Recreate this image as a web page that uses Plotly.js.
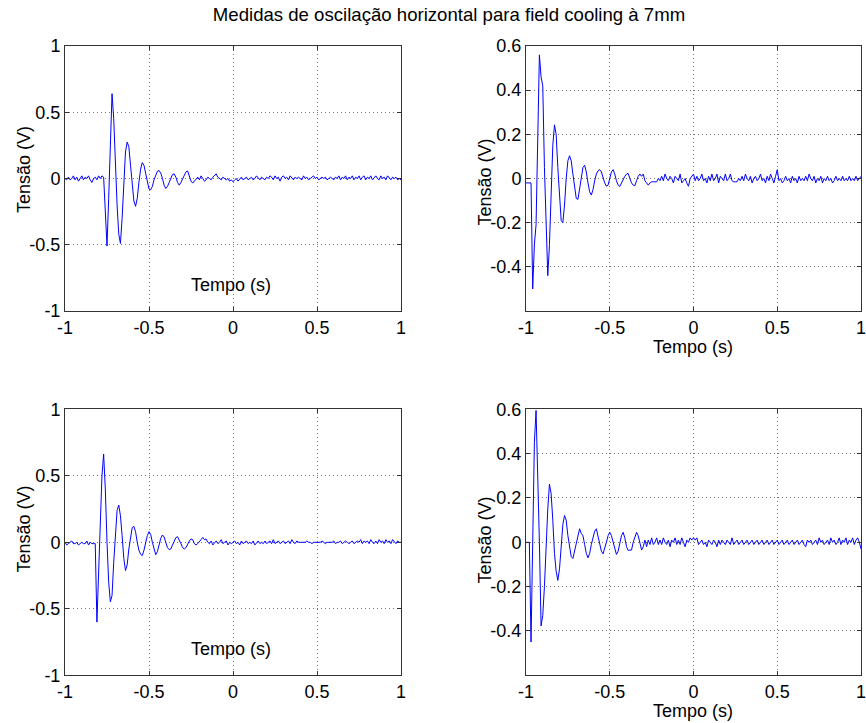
<!DOCTYPE html>
<html>
<head>
<meta charset="utf-8">
<script src="https://cdn.plot.ly/plotly-3.0.1.min.js"></script>
<style>html,body{margin:0;padding:0;background:#fff;}#chart{width:866px;height:723px;}</style>
</head>
<body>
<div id="chart"></div>
<script>
// Time grid: -1 s to 1 s, 0.01 s steps (201 samples)
const tStart = -1, tStep = 0.01, nSamples = 201;

// Top-left panel
const vTopLeft = [
  0.00, -0.01, 0.01, -0.01, 0.00, 0.02, -0.01, 0.01, -0.02, 0.00,
  0.02, -0.01, 0.01, 0.00, 0.02, -0.01, -0.03, 0.00, 0.01, -0.01,
  0.02, 0.00, 0.02, 0.01, -0.25, -0.51, -0.15, 0.30, 0.64, 0.45,
  0.10, -0.20, -0.42, -0.49, -0.30, 0.00, 0.20, 0.275, 0.24, 0.10,
  -0.05, -0.17, -0.21, -0.15, -0.03, 0.07, 0.12, 0.10, 0.04, -0.03,
  -0.08, -0.085, -0.06, -0.01, 0.03, 0.055, 0.06, 0.04, 0.00, -0.05,
  -0.075, -0.06, -0.03, 0.00, 0.03, 0.035, 0.01, -0.03, -0.05, -0.03,
  0.00, 0.03, 0.05, 0.057, 0.02, -0.02, -0.035, -0.02, 0.00, 0.01,
  -0.01, 0.02, 0.00, -0.02, -0.01, 0.01, 0.00, -0.01, 0.01, 0.02,
  0.035, 0.01, 0.00, -0.01, 0.01, 0.00, -0.01, 0.00, -0.02, -0.01,
  -0.025, -0.01, 0.00, -0.02, 0.00, 0.01, -0.01, 0.00, 0.01, -0.01,
  0.00, 0.01, -0.01, 0.00, 0.02, 0.00, -0.01, 0.01, 0.00, -0.01,
  0.01, 0.00, 0.02, 0.01, -0.01, 0.02, 0.00, 0.01, -0.02, 0.01,
  0.02, 0.00, 0.01, -0.01, 0.02, 0.00, -0.01, 0.01, 0.00, 0.01,
  0.00, -0.01, 0.02, 0.00, 0.01, -0.01, 0.00, 0.01, 0.02, 0.00,
  0.01, -0.01, 0.00, 0.01, 0.00, 0.01, -0.01, 0.00, 0.01, 0.00,
  -0.01, 0.01, 0.00, 0.02, -0.01, 0.01, 0.00, 0.02, -0.01, 0.01,
  0.00, 0.02, -0.01, 0.01, 0.00, 0.02, -0.01, 0.01, 0.02, -0.01,
  0.01, 0.00, 0.02, -0.01, 0.01, 0.02, 0.00, -0.01, 0.02, 0.00,
  0.01, -0.01, 0.02, 0.00, -0.01, 0.01, 0.00, 0.01, -0.01, 0.00,
  -0.01
];

// Top-right panel
const vTopRight = [
  -0.02, -0.02, -0.02, -0.02, -0.50, -0.30, -0.21, 0.20, 0.56, 0.46,
  0.42, 0.05, -0.25, -0.44, -0.30, -0.05, 0.15, 0.243, 0.20, 0.05,
  -0.10, -0.19, -0.20, -0.12, 0.00, 0.08, 0.103, 0.08, 0.02, -0.05,
  -0.09, -0.095, -0.05, 0.01, 0.05, 0.06, 0.03, -0.02, -0.06, -0.075,
  -0.05, -0.01, 0.02, 0.035, 0.04, 0.03, 0.00, -0.02, -0.035, -0.03,
  0.00, 0.03, 0.04, 0.02, -0.01, -0.03, -0.036, -0.02, 0.00, 0.01,
  0.02, 0.023, 0.00, -0.02, -0.03, -0.033, -0.01, 0.01, 0.02, 0.01,
  0.02, -0.01, -0.02, -0.03, -0.02, -0.015, -0.015, -0.015, -0.015, 0.00,
  -0.01, 0.01, -0.01, 0.02, 0.00, -0.01, 0.01, 0.00, -0.02, 0.01,
  0.00, -0.01, 0.02, -0.02, -0.01, 0.00, -0.02, -0.035, 0.00, 0.01,
  0.02, -0.01, 0.01, -0.01, 0.00, 0.02, -0.01, 0.00, -0.02, 0.01,
  -0.01, 0.02, -0.01, 0.00, 0.02, -0.02, 0.01, 0.00, -0.01, 0.02,
  -0.01, 0.00, 0.02, -0.01, -0.015, -0.015, -0.015, 0.00, -0.01, 0.01,
  -0.01, 0.02, 0.00, -0.01, 0.01, -0.02, 0.00, 0.01, -0.01, 0.00,
  0.02, -0.01, 0.00, -0.02, 0.01, -0.01, 0.02, 0.00, -0.02, 0.01,
  0.04, -0.01, 0.00, -0.02, -0.01, 0.01, -0.01, 0.00, -0.02, 0.01,
  -0.01, 0.00, -0.02, 0.01, -0.01, 0.00, -0.01, 0.01, -0.01, 0.02,
  0.00, -0.01, 0.01, -0.02, 0.00, -0.01, 0.01, -0.02, 0.00, -0.01,
  0.01, -0.01, 0.00, -0.02, -0.01, 0.01, -0.01, 0.00, -0.01, 0.01,
  -0.01, 0.00, -0.01, 0.01, -0.01, 0.00, -0.01, 0.01, -0.01, 0.00,
  0.01
];

// Bottom-left panel
const vBottomLeft = [
  0.00, -0.02, -0.01, 0.00, 0.01, -0.01, -0.01, 0.00, -0.02, -0.01,
  0.00, -0.01, -0.01, 0.01, -0.02, 0.00, -0.01, -0.01, -0.01, -0.60,
  -0.25, 0.15, 0.50, 0.664, 0.40, 0.00, -0.30, -0.447, -0.40, -0.15,
  0.08, 0.24, 0.28, 0.20, 0.05, -0.12, -0.213, -0.17, -0.05, 0.05,
  0.11, 0.12, 0.08, 0.00, -0.06, -0.09, -0.10, -0.06, 0.00, 0.05,
  0.08, 0.06, 0.00, -0.06, -0.093, -0.07, -0.02, 0.03, 0.055, 0.04,
  0.00, -0.04, -0.055, -0.05, -0.02, 0.01, 0.035, 0.042, 0.02, -0.01,
  -0.04, -0.05, -0.04, -0.01, 0.01, 0.025, 0.02, -0.01, -0.02, -0.01,
  0.01, 0.02, 0.037, 0.02, 0.025, 0.00, -0.01, 0.01, -0.02, 0.00,
  0.01, -0.01, 0.00, 0.02, -0.01, 0.00, 0.01, -0.02, 0.00, -0.01,
  0.00, 0.01, -0.01, 0.00, -0.02, 0.01, -0.01, 0.00, 0.01, -0.01,
  0.00, -0.01, 0.01, -0.02, 0.00, 0.01, -0.01, 0.00, -0.01, 0.01,
  -0.01, 0.00, 0.01, -0.01, 0.02, -0.01, 0.00, 0.01, -0.01, 0.00,
  0.01, -0.01, 0.00, 0.01, -0.01, 0.02, 0.00, -0.01, 0.01, 0.00,
  0.00, 0.00, 0.00, 0.00, 0.01, 0.00, 0.00, -0.01, 0.00, 0.00,
  0.00, 0.00, 0.00, 0.01, 0.00, -0.01, 0.00, 0.00, 0.00, 0.00,
  0.01, -0.01, 0.00, 0.00, 0.01, -0.01, 0.00, 0.01, 0.00, -0.01,
  0.00, 0.01, -0.01, 0.00, 0.01, 0.00, 0.02, -0.01, 0.01, 0.00,
  0.01, -0.01, 0.02, 0.00, -0.01, 0.01, -0.01, 0.02, 0.00, 0.01,
  -0.01, 0.02, 0.00, 0.01, -0.01, 0.02, 0.00, -0.01, 0.01, 0.00,
  0.00
];

// Bottom-right panel
const vBottomRight = [
  0.00, 0.00, 0.00, -0.45, -0.05, 0.45, 0.595, 0.35, 0.00, -0.377,
  -0.33, -0.20, 0.00, 0.15, 0.262, 0.22, 0.10, -0.05, -0.13, -0.172,
  -0.12, 0.00, 0.08, 0.121, 0.10, 0.03, -0.03, -0.065, -0.073, -0.04,
  0.00, 0.03, 0.061, 0.04, 0.03, -0.01, -0.05, -0.07, -0.05, -0.01,
  0.02, 0.05, 0.061, 0.03, -0.01, -0.04, -0.052, -0.03, 0.00, 0.03,
  0.045, 0.03, 0.00, -0.03, -0.055, -0.04, 0.00, 0.03, 0.045, 0.02,
  -0.02, -0.037, -0.035, -0.035, 0.00, 0.02, 0.045, 0.03, 0.00, -0.035,
  -0.02, 0.01, -0.02, 0.01, -0.01, 0.02, -0.01, 0.00, 0.02, -0.01,
  0.01, -0.01, 0.02, 0.00, -0.01, 0.01, -0.02, 0.01, 0.00, 0.02,
  -0.01, 0.01, -0.01, 0.02, 0.00, -0.02, 0.01, 0.00, 0.02, 0.01,
  0.02, 0.01, 0.02, -0.01, 0.00, 0.01, -0.01, 0.00, -0.02, 0.01,
  0.00, -0.01, 0.01, 0.00, -0.02, 0.01, -0.01, 0.01, 0.00, -0.01,
  0.01, 0.00, -0.01, 0.02, -0.01, 0.00, 0.01, -0.01, 0.00, 0.01,
  -0.01, 0.00, 0.01, -0.01, 0.00, 0.01, -0.01, 0.00, 0.01, -0.01,
  0.00, 0.01, -0.01, 0.00, 0.01, -0.01, 0.00, 0.01, -0.01, 0.00,
  0.01, -0.01, 0.00, 0.01, -0.01, 0.00, 0.01, -0.01, 0.00, 0.01,
  -0.01, 0.00, 0.01, -0.01, 0.00, 0.01, -0.01, -0.02, 0.01, 0.00,
  0.01, -0.01, 0.00, 0.01, -0.01, 0.02, 0.00, 0.01, -0.01, 0.00,
  0.01, -0.01, 0.02, 0.00, 0.01, -0.01, 0.00, 0.02, -0.01, 0.01,
  0.00, 0.02, -0.01, 0.01, 0.00, 0.02, -0.01, 0.01, 0.02, 0.00,
  -0.03
];

const xTickVals = [-1, -0.5, 0, 0.5, 1];
const xTickText = ["-1", "-0.5", "0", "0.5", "1"];
const yTickValsLeft = [-1, -0.5, 0, 0.5, 1];
const yTickTextLeft = ["-1", "-0.5", "0", "0.5", "1"];
const yTickValsRight = [-0.4, -0.2, 0, 0.2, 0.4, 0.6];
const yTickTextRight = ["-0.4", "-0.2", "0", "0.2", "0.4", "0.6"];

const titleText = "Medidas de oscilação horizontal para field cooling à 7mm";
const xLabel = "Tempo (s)";
const yLabel = "Tensão (V)";

const t = [];
for (let i = 0; i < nSamples; i++) t.push(Math.round((tStart + i * tStep) * 100) / 100);

const W = 866, H = 723;
const FONT = "Liberation Sans, Arial, Helvetica, sans-serif";
const lineStyle = {color: "#0000ff", width: 1};

const traces = [
  {x: t, y: vTopLeft, xaxis: "x", yaxis: "y"},
  {x: t, y: vTopRight, xaxis: "x2", yaxis: "y2"},
  {x: t, y: vBottomLeft, xaxis: "x3", yaxis: "y3"},
  {x: t, y: vBottomRight, xaxis: "x4", yaxis: "y4"}
].map(tr => Object.assign(tr, {type: "scatter", mode: "lines", line: lineStyle, hoverinfo: "skip", showlegend: false}));

function px(v) { return v / W; }
function py(v) { return 1 - v / H; }

const common = {
  showline: true, linecolor: "#333", linewidth: 1, mirror: "ticks",
  ticks: "inside", ticklen: 4, tickcolor: "#333",
  showgrid: true, gridcolor: "#777", griddash: "1px,3px", gridwidth: 1,
  zeroline: false, tickfont: {family: FONT, size: 18, color: "#000"},
  ticklabeloverflow: "allow", fixedrange: true
};

function xAxis(domain, anchor) {
  return Object.assign({
    domain: domain, anchor: anchor, range: [-1, 1],
    tickmode: "array", tickvals: xTickVals, ticktext: xTickText
  }, common);
}
function yAxis(domain, anchor, range, vals, text) {
  return Object.assign({
    domain: domain, anchor: anchor, range: range,
    tickmode: "array", tickvals: vals, ticktext: text
  }, common);
}

const leftX = [px(65), px(401)];
const rightX = [px(526), px(861)];
const topY = [py(311), py(46)];
const botY = [py(675.3), py(409.3)];

function ann(text, x, y, angle) {
  return {text: text, xref: "paper", yref: "paper", x: px(x), y: py(y),
          xanchor: "center", yanchor: "middle", showarrow: false,
          textangle: angle || 0, font: {family: FONT, size: 18, color: "#000"}};
}

const layout = {
  width: W, height: H,
  margin: {l: 0, r: 0, t: 0, b: 0},
  paper_bgcolor: "#fff", plot_bgcolor: "#fff",
  showlegend: false,
  title: {text: titleText, x: px(449), y: py(14), xref: "paper", yref: "paper",
          xanchor: "center", yanchor: "middle",
          font: {family: FONT, size: 18.6, color: "#000"}},
  xaxis: xAxis(leftX, "y"),
  yaxis: yAxis(topY, "x", [-1, 1], yTickValsLeft, yTickTextLeft),
  xaxis2: xAxis(rightX, "y2"),
  yaxis2: yAxis(topY, "x2", [-0.6, 0.6], yTickValsRight, yTickTextRight),
  xaxis3: xAxis(leftX, "y3"),
  yaxis3: yAxis(botY, "x3", [-1, 1], yTickValsLeft, yTickTextLeft),
  xaxis4: xAxis(rightX, "y4"),
  yaxis4: yAxis(botY, "x4", [-0.6, 0.6], yTickValsRight, yTickTextRight),
  annotations: [
    ann(xLabel, 231, 285),
    ann(xLabel, 692.5, 347),
    ann(xLabel, 231, 649),
    ann(xLabel, 692.5, 711),
    ann(yLabel, 23.5, 169.5, -90),
    ann(yLabel, 484, 182.5, -90),
    ann(yLabel, 23.5, 529, -90),
    ann(yLabel, 484.5, 540, -90)
  ]
};

Plotly.newPlot("chart", traces, layout, {staticPlot: true, displayModeBar: false});
</script>
</body>
</html>
